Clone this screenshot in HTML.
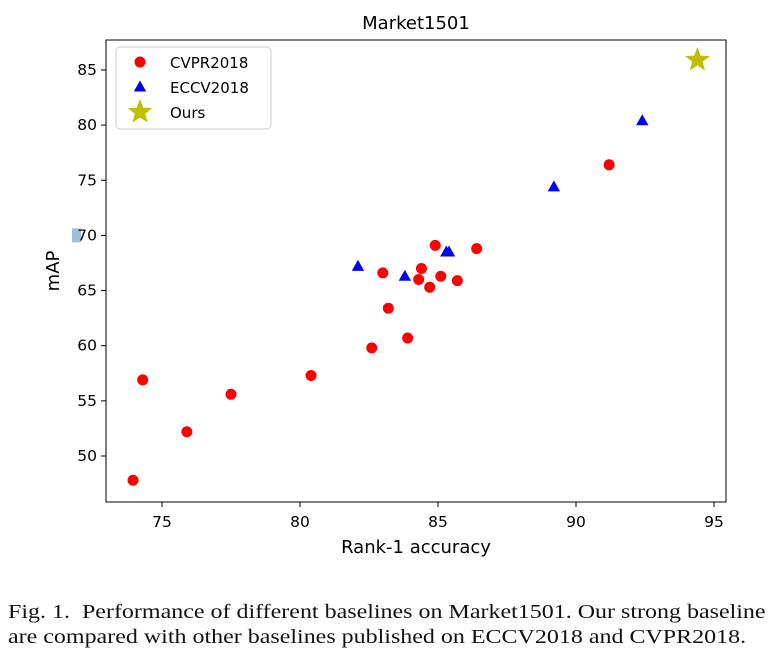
<!DOCTYPE html>
<html><head><meta charset="utf-8"><style>
body{margin:0;background:#fff;width:775px;height:660px;overflow:hidden;font-family:"DejaVu Sans","Liberation Sans",sans-serif}
svg{position:absolute;left:0;top:0}
.cap{position:absolute;left:8px;top:600px;font-family:"Liberation Serif",serif;font-size:20.5px;line-height:25px;color:#111;white-space:nowrap;transform:scaleX(1.17);transform-origin:0 0}
</style></head><body>
<svg id="chart" width="775" height="600"></svg>
<div class="cap">Fig. 1.&nbsp; Performance of different baselines on Market1501. Our strong baseline<br>are compared with other baselines published on ECCV2018 and CVPR2018.</div>
<script>
const cvprX=[73.95,74.3,75.9,77.5,80.4,82.6,83.0,83.2,83.9,84.3,84.4,84.7,84.9,85.1,85.7,86.4,91.2];
const cvprY=[47.8,56.9,52.2,55.6,57.3,59.8,66.6,63.4,60.7,66.0,67.0,65.3,69.1,66.3,65.9,68.8,76.4];
const eccvX=[82.1,83.8,85.3,85.4,89.2,92.4];
const eccvY=[67.2,66.3,68.5,68.5,74.4,80.4];
const oursX=[94.4];
const oursY=[85.9];
const xTicks=[75,80,85,90,95];
const yTicks=[50,55,60,65,70,75,80,85];
const NS="http://www.w3.org/2000/svg";
const svg=document.getElementById('chart');
const L=106,R=726,T=40,B=502;
const sx=v=>162+(v-75)*27.6;
const sy=v=>456-(v-50)*11.03;
function el(t,a,p){const e=document.createElementNS(NS,t);for(const k in a)e.setAttribute(k,a[k]);(p||svg).appendChild(e);return e;}
let fr=el('rect',{x:L,y:T,width:R-L,height:B-T,fill:'none',stroke:'#000','stroke-width':1});


let tt=el('text',{x:(L+R)/2,y:29,'text-anchor':'middle','font-size':18});tt.textContent='Market1501';


xTicks.forEach(v=>{const x=sx(v);el('line',{x1:x,x2:x,y1:B,y2:B+5,stroke:'#000'});
const t=el('text',{x:x,y:B+25,'text-anchor':'middle','font-size':15.5});t.textContent=v;

});
yTicks.forEach(v=>{const y=sy(v);el('line',{x1:L-5,x2:L,y1:y,y2:y,stroke:'#000'});
if(v===70)el('rect',{x:72,y:y-7,width:9,height:14,fill:'#9fbfd8'});
const t=el('text',{x:L-9,y:y+5,'text-anchor':'end','font-size':15.5});t.textContent=v;

});
let xl=el('text',{x:(L+R)/2,y:553,'text-anchor':'middle','font-size':18});xl.textContent='Rank-1 accuracy';


let yl=el('text',{x:0,y:0,'text-anchor':'middle','font-size':18,transform:`translate(59,${(T+B)/2}) rotate(-90)`});yl.textContent='mAP';


function tri(cx,cy,s){return `${cx},${cy-s} ${cx+s*0.95},${cy+s*0.7} ${cx-s*0.95},${cy+s*0.7}`;}
function star(cx,cy,r){let p=[];for(let i=0;i<10;i++){const a=-Math.PI/2+i*Math.PI/5,rr=i%2?r*0.42:r;p.push((cx+rr*Math.cos(a)).toFixed(1)+','+(cy+rr*Math.sin(a)).toFixed(1));}return p.join(' ');}
cvprX.forEach((v,i)=>{const c=el('circle',{cx:sx(v),cy:sy(cvprY[i]),r:5.5,fill:'#ff0000'});

});
eccvX.forEach((v,i)=>{const c=el('polygon',{points:tri(sx(v),sy(eccvY[i]),6.5),fill:'#0000ff'});

});
oursX.forEach((v,i)=>{const c=el('polygon',{points:star(sx(v),sy(oursY[i]),13),fill:'#bfbf00'});

});
const lg=el('g',{});


el('rect',{x:116,y:47,width:155,height:82,rx:4,fill:'#fff',stroke:'#ccc'},lg);
el('circle',{cx:140,cy:62,r:5.5,fill:'#ff0000'},lg);
el('polygon',{points:tri(140,87,6.5),fill:'#0000ff'},lg);
el('polygon',{points:star(140,112,13),fill:'#bfbf00'},lg);
[['CVPR2018',68],['ECCV2018',93],['Ours',118]].forEach(([s,y])=>{const t=el('text',{x:170,y:y,'font-size':15},lg);t.textContent=s;

});
</script>
</body></html>
